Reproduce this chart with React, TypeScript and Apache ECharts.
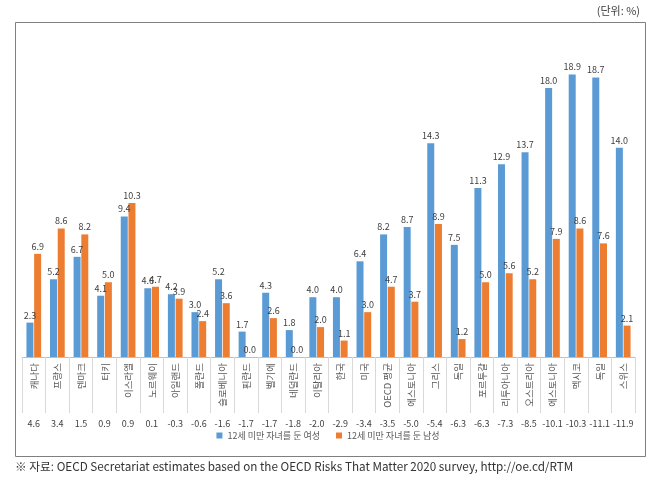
import React, { useEffect, useRef } from "react";
import * as echarts from "echarts";

const categories = [
  "캐나다", "프랑스", "덴마크", "터키", "이스라엘", "노르웨이", "아일랜드", "폴란드",
  "슬로베니아", "핀란드", "벨기에", "네덜란드", "이탈리아", "한국", "미국", "OECD 평균",
  "에스토니아", "그리스", "독일", "포르투갈", "리투아니아", "오스트리아", "에스토니아",
  "멕시코", "독일", "스위스",
];
const women = [
  2.3, 5.2, 6.7, 4.1, 9.4, 4.6, 4.2, 3.0, 5.2, 1.7, 4.3, 1.8, 4.0, 4.0, 6.4, 8.2,
  8.7, 14.3, 7.5, 11.3, 12.9, 13.7, 18.0, 18.9, 18.7, 14.0,
];
const men = [
  6.9, 8.6, 8.2, 5.0, 10.3, 4.7, 3.9, 2.4, 3.6, 0.0, 2.6, 0.0, 2.0, 1.1, 3.0, 4.7,
  3.7, 8.9, 1.2, 5.0, 5.6, 5.2, 7.9, 8.6, 7.6, 2.1,
];
const diffs = [
  "4.6", "3.4", "1.5", "0.9", "0.9", "0.1", "-0.3", "-0.6", "-1.6", "-1.7", "-1.7", "-1.8",
  "-2.0", "-2.9", "-3.4", "-3.5", "-5.0", "-5.4", "-6.3", "-6.3", "-7.3", "-8.5", "-10.1",
  "-10.3", "-11.1", "-11.9",
];
const seriesNames = ["12세 미만 자녀를 둔 여성", "12세 미만 자녀를 둔 남성"];
const unitText = "(단위: %)";
const sourceText =
  "※ 자료: OECD Secretariat estimates based on the OECD Risks That Matter 2020 survey, http://oe.cd/RTM";

const FONT = "'Noto Sans CJK KR', 'Noto Sans', sans-serif";

export default function App() {
  const ref = useRef<HTMLDivElement>(null);
  useEffect(() => {
    if (!ref.current) return;
    const chart = echarts.init(ref.current, undefined, { renderer: "svg" });
    const labelStyle = {
      show: true,
      position: "top" as const,
      fontSize: 9,
      color: "#404040",
      fontFamily: FONT,
      distance: 3,
      formatter: (p: any) => Number(p.value).toFixed(1),
    };
    chart.setOption({
      animation: false,
      textStyle: { fontFamily: FONT },
      grid: { left: 22, right: 21, top: 58, bottom: 123, containLabel: false },
      legend: {
        bottom: 35,
        left: "center",
        itemWidth: 6,
        itemHeight: 6,
        itemGap: 16,
        icon: "rect",
        textStyle: { fontSize: 9, color: "#595959", fontFamily: FONT },
        data: seriesNames,
      },
      xAxis: [
        {
          type: "category",
          data: categories,
          axisLine: { show: true, lineStyle: { color: "#bfbfbf", width: 1 } },
          axisTick: { show: true, length: 56, interval: 0, lineStyle: { color: "#d9d9d9" } },
          axisLabel: {
            interval: 0,
            rotate: 90,
            fontSize: 9.5,
            color: "#595959",
            margin: 6,
            fontFamily: FONT,
          },
        },
        {
          type: "category",
          data: diffs,
          position: "bottom",
          offset: 58,
          axisLine: { show: false },
          axisTick: { show: false },
          axisLabel: { interval: 0, fontSize: 9, color: "#404040", margin: 4, fontFamily: FONT },
        },
      ],
      yAxis: { type: "value", min: 0, max: 20, show: false, splitLine: { show: false } },
      series: [
        {
          name: seriesNames[0],
          type: "bar",
          data: women,
          barWidth: 7,
          barGap: "10%",
          itemStyle: { color: "#5B9BD5" },
          label: labelStyle,
        },
        {
          name: seriesNames[1],
          type: "bar",
          data: men,
          barWidth: 7,
          itemStyle: { color: "#ED7D31" },
          label: labelStyle,
        },
      ],
      graphic: [
        {
          type: "rect",
          shape: { x: 15.5, y: 22.5, width: 630, height: 434 },
          style: { fill: "none", stroke: "#7f7f7f", lineWidth: 1 },
          silent: true,
        },
        {
          type: "text",
          right: 16,
          top: 4,
          style: { text: unitText, fontSize: 11, fill: "#404040", fontFamily: FONT },
        },
        {
          type: "text",
          left: 15,
          top: 460,
          style: { text: sourceText, fontSize: 11.7, fill: "#333333", fontFamily: FONT },
        },
      ],
    });
    return () => chart.dispose();
  }, []);
  return (
    <div
      ref={ref}
      style={{ position: "fixed", left: 0, top: 0, width: 656, height: 480 }}
    />
  );
}
